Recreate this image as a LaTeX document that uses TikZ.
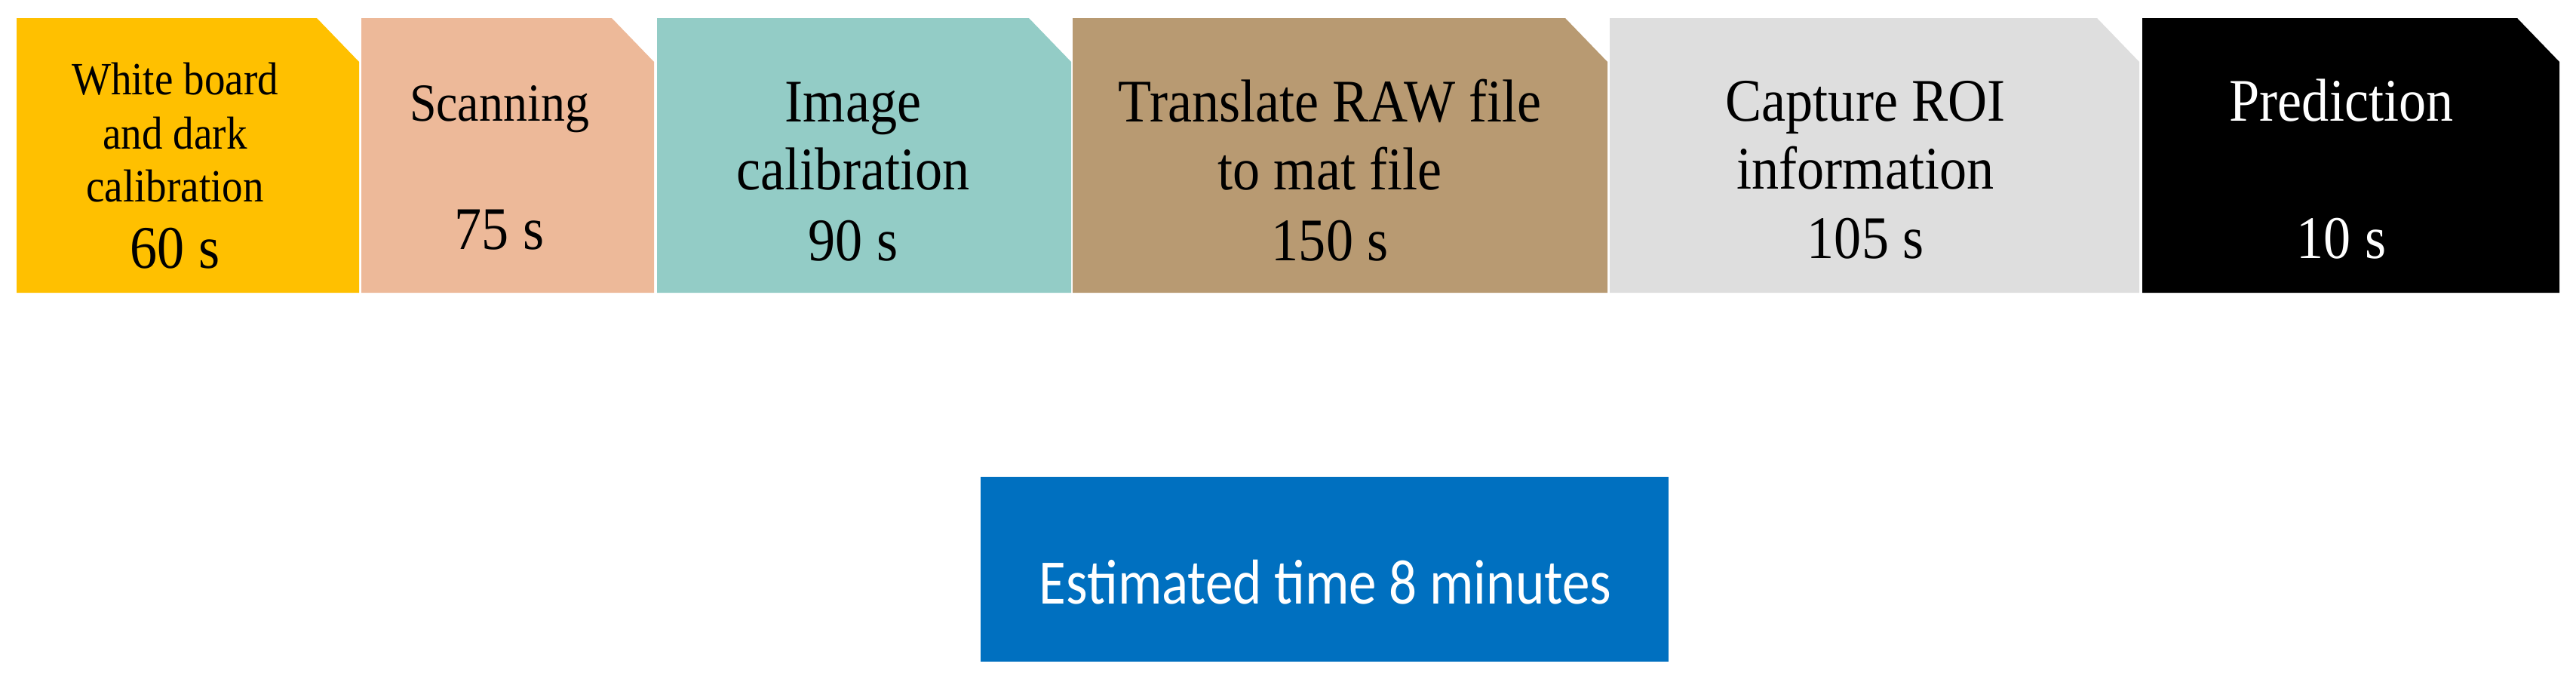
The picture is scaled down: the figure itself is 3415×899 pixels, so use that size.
\documentclass[tikz,border=0pt]{standalone}
\usepackage{fontspec}
\setmainfont{Liberation Serif}[FakeStretch=0.9]
\newfontfamily\bannerfont{Carlito}[FakeStretch=0.87]
\definecolor{stepgold}{HTML}{FFC000}
\definecolor{steppeach}{HTML}{EDB999}
\definecolor{stepteal}{HTML}{93CCC6}
\definecolor{stepbrown}{HTML}{B89A72}
\definecolor{stepgrey}{HTML}{DEDEDE}
\definecolor{bannerblue}{HTML}{0070C0}
\tikzset{
  steptext/.style={anchor=base,inner sep=0pt,font=\fontsize{22.8}{27}\selectfont},
  stepsmall/.style={anchor=base,inner sep=0pt,font=\fontsize{17.4}{20}\selectfont},
}
% filled step with clipped top right corner: left x, right x, colour
\newcommand{\stepshape}[3]{%
  \fill[#3] (#1,24) -- ({#2-56},24) -- (#2,82) -- (#2,388) -- (#1,388) -- cycle;}
\begin{document}
\begin{tikzpicture}[x=0.01cm,y=-0.01cm]
  \useasboundingbox (0,0) rectangle (3415,899);
  \stepshape{22}{476}{stepgold}
  \stepshape{479}{867}{steppeach}
  \stepshape{871}{1420}{stepteal}
  \stepshape{1422}{2131}{stepbrown}
  \stepshape{2134}{2836}{stepgrey}
  \stepshape{2840}{3393}{black}
  % white board step
  \node[stepsmall] (wb1) at (232,125) {White board};
  \node[stepsmall] (wb2) at (232,197) {and dark};
  \node[stepsmall] (wb3) at (232,267) {calibration};
  \node[steptext] (wbt) at (232,355) {60 s};
  % scanning
  \node[steptext,font=\fontsize{20.2}{24}\selectfont] (sc1) at (662,160) {Scanning};
  \node[steptext] (sct) at (662,330) {75 s};
  % image calibration
  \node[steptext] (ic1) at (1131,161) {Image};
  \node[steptext] (ic2) at (1131,251) {calibration};
  \node[steptext] (ict) at (1131,345) {90 s};
  % raw to mat
  \node[steptext] (tr1) at (1763,161) {Translate RAW file};
  \node[steptext] (tr2) at (1763,251) {to mat file};
  \node[steptext] (trt) at (1763,345) {150 s};
  % roi
  \node[steptext] (roi1) at (2473,160) {Capture ROI};
  \node[steptext] (roi2) at (2473,250) {information};
  \node[steptext] (roit) at (2473,342) {105 s};
  % prediction
  \node[steptext,text=white] (pr1) at (3104,160) {Prediction};
  \node[steptext,text=white] (prt) at (3104,342) {10 s};
  % total
  \fill[bannerblue] (1300,632) rectangle (2212,877);
  \node[anchor=base,inner sep=0pt,text=white,font=\bannerfont\fontsize{23.9}{28}\selectfont]
    (total) at (1757,800) {Estimated time 8 minutes};
\end{tikzpicture}
\end{document}
